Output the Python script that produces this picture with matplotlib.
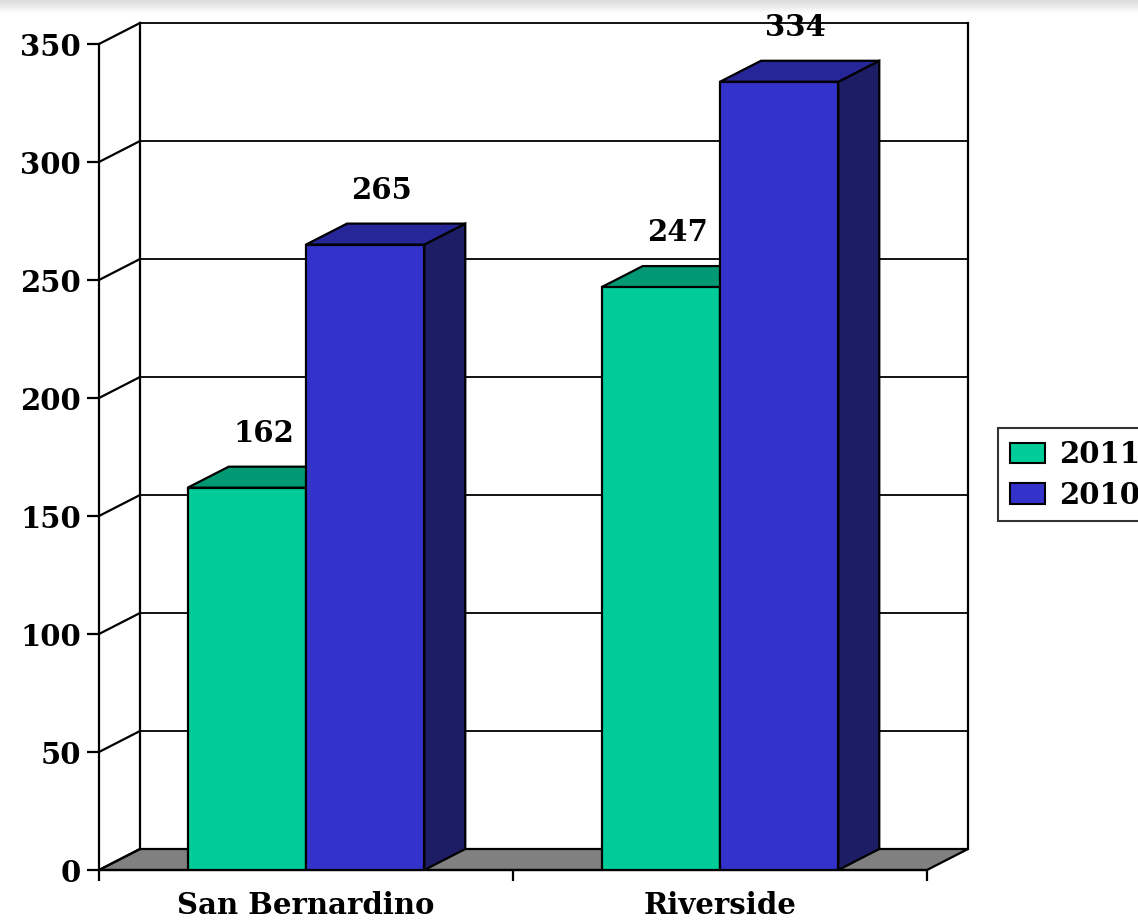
import numpy as np
import matplotlib.pyplot as plt
from matplotlib.patches import Polygon, Patch

categories = ['San Bernardino', 'Riverside']
series_names = ['2011', '2010']
values_2011 = [162, 247]
values_2010 = [265, 334]
y_ticks = [0, 50, 100, 150, 200, 250, 300, 350]

face_cols = ['#00CC99', '#3333CC']
top_cols = ['#009973', '#262699']
side_cols = ['#00664D', '#1D1D66']

plt.rcParams['font.family'] = ['DejaVu Serif']
plt.rcParams['font.weight'] = 'bold'
fs = 21

fig = plt.figure(figsize=(11.38, 9.22), dpi=100)

# faint shadow strip at top of slide
sh = fig.add_axes([0, 1 - 14 / 922, 1, 14 / 922])
grad = np.linspace(0.86, 1.0, 50).reshape(-1, 1)
sh.imshow(grad, cmap='gray', vmin=0, vmax=1, aspect='auto', extent=[0, 1, 0, 1])
sh.axis('off')

ax = fig.add_axes([99 / 1138, 52 / 922, 869 / 1138, 847 / 922])
dx = 41 / 414   # depth offset (category units)
dy = 8.9        # depth offset (value units)
ymax = 350
ncat = len(categories)
ax.set_xlim(0, ncat + dx)
ax.set_ylim(0, ymax + dy)

lw = 1.6
# floor
ax.add_patch(Polygon([(0, 0), (ncat, 0), (ncat + dx, dy), (dx, dy)], closed=True,
                     facecolor='#808080', edgecolor='black', lw=lw, zorder=1, clip_on=False))
# back wall grid + left wall lines
for v in y_ticks:
    if v > 0:
        ax.plot([dx, ncat + dx], [v + dy, v + dy], color='black', lw=1.3, zorder=1.5, clip_on=False)
    ax.plot([0, dx], [v, v + dy], color='black', lw=lw, zorder=1.5, clip_on=False)
ax.plot([dx, dx], [dy, ymax + dy], color='black', lw=lw, zorder=1.5, clip_on=False)
ax.plot([ncat + dx, ncat + dx], [dy, ymax + dy], color='black', lw=lw, zorder=1.5, clip_on=False)

w = 1 / 3.5
series = [values_2011, values_2010]
for i in range(ncat):
    for s, vals in enumerate(series):
        x0 = i + w * 0.75 + s * w
        h = vals[i]
        z = 3 + s
        ax.add_patch(Polygon([(x0 + w, 0), (x0 + w + dx, dy), (x0 + w + dx, h + dy), (x0 + w, h)],
                             closed=True, facecolor=side_cols[s], edgecolor='black', lw=lw, zorder=z))
        ax.add_patch(Polygon([(x0, h), (x0 + w, h), (x0 + w + dx, h + dy), (x0 + dx, h + dy)],
                             closed=True, facecolor=top_cols[s], edgecolor='black', lw=lw, zorder=z))
        ax.add_patch(Polygon([(x0, 0), (x0 + w, 0), (x0 + w, h), (x0, h)],
                             closed=True, facecolor=face_cols[s], edgecolor='black', lw=lw, zorder=z))
        ax.text(x0 + w / 2 + 0.04, h + 23, str(h), ha='center', va='center',
                fontsize=fs, fontweight='bold', zorder=10)

for sp in ['top', 'right']:
    ax.spines[sp].set_visible(False)
ax.spines['left'].set_bounds(0, ymax)
ax.spines['bottom'].set_bounds(0, ncat)
ax.spines['left'].set_linewidth(lw)
ax.spines['bottom'].set_linewidth(lw)
ax.spines['left'].set_zorder(2)
ax.spines['bottom'].set_zorder(2)

ax.set_yticks(y_ticks)
ax.set_yticklabels([str(v) for v in y_ticks], fontsize=fs, fontweight='bold')
ax.tick_params(axis='y', length=9, width=lw, pad=4)
ax.set_xticks(range(ncat + 1))
ax.set_xticklabels([''] * (ncat + 1))
ax.tick_params(axis='x', which='major', length=8, width=lw)
ax.set_xticks([i + 0.5 for i in range(ncat)], minor=True)
ax.set_xticklabels(categories, minor=True, fontsize=fs, fontweight='bold')
ax.tick_params(axis='x', which='minor', length=0, pad=15)

handles = [Patch(facecolor=face_cols[s], edgecolor='black', lw=1.5, label=series_names[s])
           for s in range(len(series_names))]
leg = fig.legend(handles=handles, loc='center left', bbox_to_anchor=(998 / 1138, 1 - 475 / 922),
                 bbox_transform=fig.transFigure, frameon=True, fancybox=False, borderaxespad=0,
                 prop={'size': fs, 'weight': 'bold'}, handlelength=1.2, handleheight=0.7,
                 handletextpad=0.5, labelspacing=0.4, borderpad=0.4)
leg.get_frame().set_edgecolor('black')
leg.get_frame().set_linewidth(1.5)

fig.savefig('out.png', dpi=100)
